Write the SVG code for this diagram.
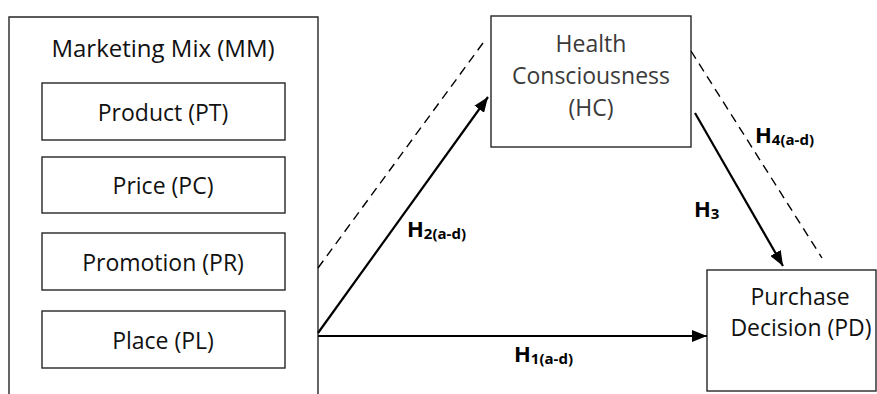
<svg xmlns="http://www.w3.org/2000/svg" width="877" height="394" viewBox="0 0 877 394">
<style>
.box{fill:#fff;stroke:#262626;stroke-width:1.4}
.t{font-family:"Open Sans","Noto Sans",sans-serif;font-size:23px;fill:#111;text-anchor:middle}
.g{fill:#3a3a3a}
.solid{stroke:#000;stroke-width:2.2;fill:none}
.dash{stroke:#000;stroke-width:1.4;fill:none;stroke-dasharray:9 6}
.lbl{font-family:"Open Sans","Noto Sans",sans-serif;font-weight:bold;font-size:22px;fill:#000}
.sub{font-size:15px}
</style>
<defs>
<marker id="ah" markerUnits="userSpaceOnUse" markerWidth="16" markerHeight="12" refX="15" refY="6" orient="auto">
<path d="M0,0 L15,6 L0,12 z" fill="#000"/>
</marker>
</defs>
<rect width="877" height="394" fill="#fff"/>
<g id="mm">
<path d="M9,394 V17 H318 V394" class="box" fill="none"/>
<text class="t" x="163" y="57" style="font-size:24px">Marketing Mix (MM)</text>
</g>
<g id="pt"><rect class="box" x="42" y="83" width="243" height="57"/><text class="t" x="163" y="121">Product (PT)</text></g>
<g id="pc"><rect class="box" x="42" y="157" width="243" height="56"/><text class="t" x="163" y="194">Price (PC)</text></g>
<g id="pr"><rect class="box" x="42" y="233" width="243" height="57"/><text class="t" x="163" y="271">Promotion (PR)</text></g>
<g id="pl"><rect class="box" x="42" y="311" width="243" height="57"/><text class="t" x="163" y="349">Place (PL)</text></g>
<g id="hc"><rect class="box" x="491" y="16" width="200" height="131"/>
<text class="t g" x="591" y="52">Health</text>
<text class="t g" x="591" y="84">Consciousness</text>
<text class="t g" x="591" y="116">(HC)</text></g>
<g id="pd"><rect class="box" x="707" y="270" width="169" height="121"/>
<text class="t" x="800" y="305">Purchase</text>
<text class="t" x="801" y="336">Decision (PD)</text></g>
<g id="connectors">
<line class="dash" x1="318" y1="268" x2="483" y2="43"/>
<line class="dash" x1="691" y1="51" x2="822" y2="258"/>
<line class="solid" x1="318" y1="336" x2="707" y2="336" marker-end="url(#ah)"/>
<line class="solid" x1="318" y1="333" x2="488" y2="97" marker-end="url(#ah)"/>
<line class="solid" x1="695" y1="113" x2="783" y2="266" marker-end="url(#ah)"/>
</g>
<g id="labels">
<text class="lbl" x="407" y="237">H<tspan class="sub" dy="2">2(a-d)</tspan></text>
<text class="lbl" x="514" y="362">H<tspan class="sub" dy="2">1(a-d)</tspan></text>
<text class="lbl" x="694" y="217">H<tspan class="sub" dy="2">3</tspan></text>
<text class="lbl" x="755" y="143">H<tspan class="sub" dy="2">4(a-d)</tspan></text>
</g>
</svg>
